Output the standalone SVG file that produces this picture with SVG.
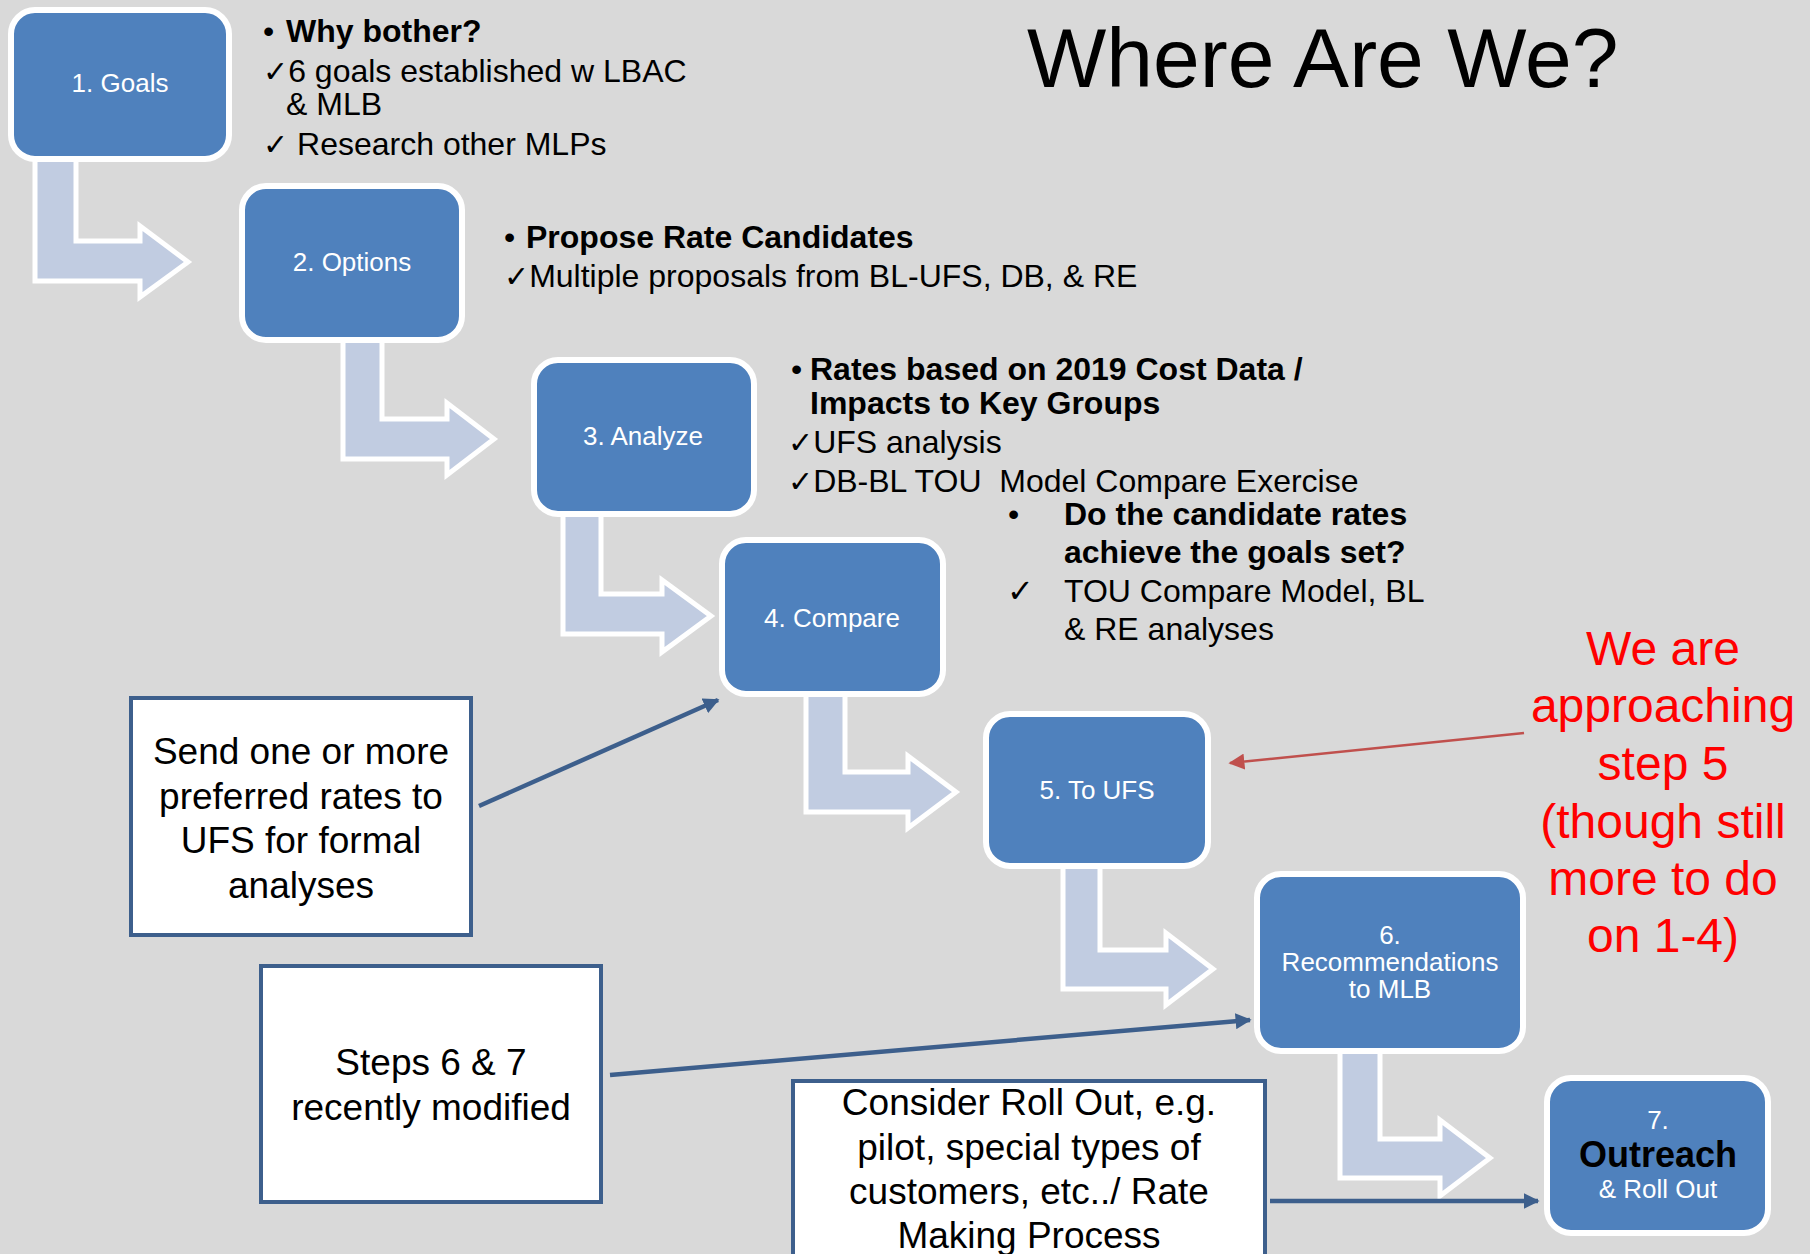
<svg xmlns="http://www.w3.org/2000/svg" width="1810" height="1254" viewBox="0 0 1810 1254">
<defs>
<style>
.bg{fill:#d9d9d9}
.arr{fill:#c1cce1;stroke:#ffffff;stroke-width:5;stroke-linejoin:miter}
.step{fill:#4f81bd;stroke:#ffffff;stroke-width:6}
.lbl{font-family:"Liberation Sans",Arial,sans-serif;font-size:26px;fill:#ffffff;text-anchor:middle}
.note{fill:#ffffff;stroke:#3d5f8c;stroke-width:4}
.nt{font-family:"Liberation Sans",Arial,sans-serif;font-size:37px;fill:#000000;text-anchor:middle}
.bt{font-family:"Liberation Sans","DejaVu Sans",Arial,sans-serif;font-size:32px;fill:#000000}
.ck{font-size:30px}
.b{font-weight:bold}
.red{font-family:"Liberation Sans",Arial,sans-serif;font-size:48px;fill:#ff0000;text-anchor:middle}
.con{stroke:#3d5f8c;stroke-width:4.5;fill:none}
.rcon{stroke:#c0504d;stroke-width:2.5;fill:none}
</style>
<marker id="ah" viewBox="0 0 10 10" refX="9" refY="5" markerUnits="userSpaceOnUse" markerWidth="16" markerHeight="16" orient="auto">
<path d="M0,0 L10,5 L0,10 z" fill="#3d5f8c"/>
</marker>
<marker id="rah" viewBox="0 0 10 10" refX="9" refY="5" markerUnits="userSpaceOnUse" markerWidth="16" markerHeight="16" orient="auto">
<path d="M0,0 L10,5 L0,10 z" fill="#c0504d"/>
</marker>
</defs>
<rect class="bg" x="0" y="0" width="1810" height="1254"/>

<g id="flow-arrows">
<polygon class="arr" points="35,158 76,158 76,241 140,241 140,226 188,262 140,297 140,281 35,281"/>
<polygon class="arr" points="343,338 382,338 382,419 447,419 447,403 494,439 447,475 447,459 343,459"/>
<polygon class="arr" points="563,512 601,512 601,594 662,594 662,580 711,616 662,652 662,634 563,634"/>
<polygon class="arr" points="806,692 845,692 845,772 908,772 908,756 956,792 908,828 908,812 806,812"/>
<polygon class="arr" points="1063,864 1100,864 1100,950 1166,950 1166,933 1213,969 1166,1005 1166,989 1063,989"/>
<polygon class="arr" points="1340,1048 1380,1048 1380,1139 1440,1139 1440,1120 1490,1158 1440,1196 1440,1178 1340,1178"/>
</g>

<g id="step1">
<rect class="step" x="11" y="10" width="218" height="149" rx="24"/>
<text class="lbl" x="120" y="92">1. Goals</text>
</g>
<g id="step2">
<rect class="step" x="242" y="186" width="220" height="154" rx="24"/>
<text class="lbl" x="352" y="271">2. Options</text>
</g>
<g id="step3">
<rect class="step" x="534" y="360" width="220" height="154" rx="24"/>
<text class="lbl" x="643" y="445">3. Analyze</text>
</g>
<g id="step4">
<rect class="step" x="722" y="540" width="221" height="154" rx="24"/>
<text class="lbl" x="832" y="627">4. Compare</text>
</g>
<g id="step5">
<rect class="step" x="986" y="714" width="222" height="152" rx="24"/>
<text class="lbl" x="1097" y="799">5. To UFS</text>
</g>
<g id="step6">
<rect class="step" x="1257" y="874" width="266" height="177" rx="24"/>
<text class="lbl" x="1390" y="944">6.</text>
<text class="lbl" x="1390" y="971">Recommendations</text>
<text class="lbl" x="1390" y="998">to MLB</text>
</g>
<g id="step7">
<rect class="step" x="1547" y="1078" width="221" height="155" rx="24"/>
<text class="lbl" x="1658" y="1129">7.</text>
<text class="lbl b" x="1658" y="1167" style="font-size:36px;fill:#000000">Outreach</text>
<text class="lbl" x="1658" y="1198">&amp; Roll Out</text>
</g>

<g id="title">
<text x="1027" y="87" style="font-family:'Liberation Sans',Arial,sans-serif;font-size:84px;fill:#000000">Where Are We?</text>
</g>

<g id="text-goals">
<text class="bt" x="263" y="42">•</text>
<text class="bt b" x="286" y="42">Why bother?</text>
<text class="bt" x="263" y="82"><tspan class="ck">✓</tspan>6 goals established w LBAC</text>
<text class="bt" x="286" y="115">&amp; MLB</text>
<text class="bt" x="263" y="155"><tspan class="ck">✓</tspan> Research other MLPs</text>
</g>
<g id="text-options">
<text class="bt" x="504" y="248">•</text>
<text class="bt b" x="526" y="248">Propose Rate Candidates</text>
<text class="bt" x="504" y="287"><tspan class="ck">✓</tspan>Multiple proposals from BL-UFS, DB, &amp; RE</text>
</g>
<g id="text-analyze">
<text class="bt" x="791" y="380">•</text>
<text class="bt b" x="810" y="380">Rates based on 2019 Cost Data /</text>
<text class="bt b" x="810" y="414">Impacts to Key Groups</text>
<text class="bt" x="788" y="453"><tspan class="ck">✓</tspan>UFS analysis</text>
<text class="bt" x="788" y="492" xml:space="preserve" style="white-space:pre"><tspan class="ck">✓</tspan>DB-BL TOU  Model Compare Exercise</text>
</g>
<g id="text-compare">
<text class="bt" x="1008" y="525">•</text>
<text class="bt b" x="1064" y="525">Do the candidate rates</text>
<text class="bt b" x="1064" y="563">achieve the goals set?</text>
<text class="bt" x="1007" y="602">✓</text>
<text class="bt" x="1064" y="602">TOU Compare Model, BL</text>
<text class="bt" x="1064" y="640">&amp; RE analyses</text>
</g>

<g id="status-note">
<text class="red" x="1663" y="665">We are</text>
<text class="red" x="1663" y="722">approaching</text>
<text class="red" x="1663" y="780">step 5</text>
<text class="red" x="1663" y="838">(though still</text>
<text class="red" x="1663" y="895">more to do</text>
<text class="red" x="1663" y="952">on 1-4)</text>
</g>

<g id="note-send">
<rect class="note" x="131" y="698" width="340" height="237"/>
<text class="nt" x="301" y="764">Send one or more</text>
<text class="nt" x="301" y="809">preferred rates to</text>
<text class="nt" x="301" y="853">UFS for formal</text>
<text class="nt" x="301" y="898">analyses</text>
</g>
<g id="note-steps">
<rect class="note" x="261" y="966" width="340" height="236"/>
<text class="nt" x="431" y="1075">Steps 6 &amp; 7</text>
<text class="nt" x="431" y="1120">recently modified</text>
</g>
<g id="note-rollout">
<rect class="note" x="793" y="1081" width="472" height="190"/>
<text class="nt" x="1029" y="1115">Consider Roll Out, e.g.</text>
<text class="nt" x="1029" y="1160">pilot, special types of</text>
<text class="nt" x="1029" y="1204">customers, etc../ Rate</text>
<text class="nt" x="1029" y="1248">Making Process</text>
</g>

<g id="connectors">
<line class="con" x1="479" y1="806" x2="718" y2="700" marker-end="url(#ah)"/>
<line class="con" x1="610" y1="1075" x2="1250" y2="1020" marker-end="url(#ah)"/>
<line class="con" x1="1270" y1="1201" x2="1538" y2="1201" marker-end="url(#ah)"/>
<line class="rcon" x1="1524" y1="733" x2="1230" y2="763" marker-end="url(#rah)"/>
</g>
</svg>
